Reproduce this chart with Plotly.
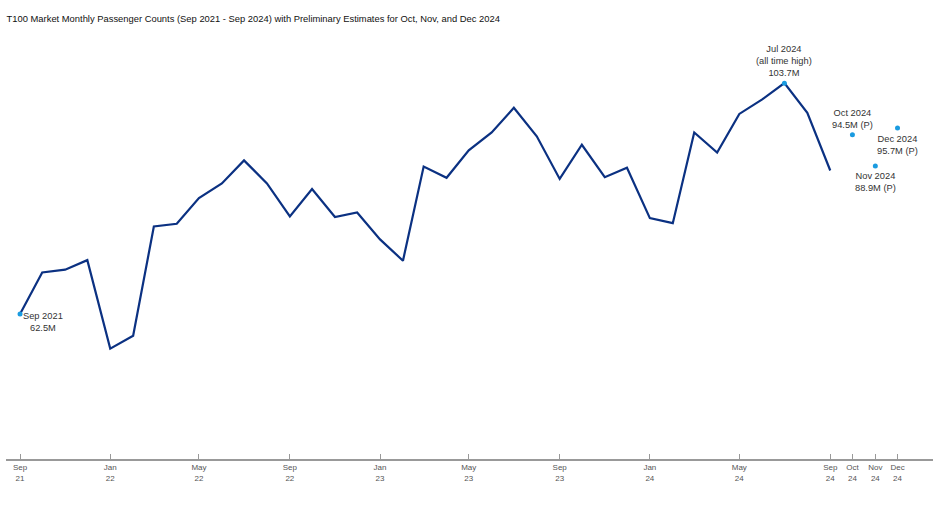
import pandas as pd
import plotly.graph_objects as go

# Monthly passenger counts, millions (Sep 2021 - Sep 2024)
months = pd.date_range("2021-09-01", "2024-09-01", freq="MS")
passengers = [
    62.5, 69.9, 70.4, 72.1,
    56.3, 58.6, 78.1, 78.6, 83.2, 85.8, 89.9, 85.8, 79.9, 84.8, 79.8, 80.6,
    75.8, 72.0, 88.8, 86.8, 91.7, 94.9, 99.3, 94.2, 86.6, 92.7, 86.9, 88.6,
    79.6, 78.7, 94.9, 91.3, 98.2, 100.8, 103.7, 98.4, 88.1,
]

# Preliminary estimates
prelim_months = pd.to_datetime(["2024-10-01", "2024-11-01", "2024-12-01"])
prelim_values = [94.5, 88.9, 95.7]

tick_dates = pd.to_datetime([
    "2021-09-01", "2022-01-01", "2022-05-01", "2022-09-01", "2023-01-01",
    "2023-05-01", "2023-09-01", "2024-01-01", "2024-05-01", "2024-09-01",
    "2024-10-01", "2024-11-01", "2024-12-01",
])
tick_text = [d.strftime("%b<br>%y") for d in tick_dates]

title = ("T100 Market Monthly Passenger Counts (Sep 2021 - Sep 2024) "
         "with Preliminary Estimates for Oct, Nov, and Dec 2024")

line_color = "#0b3182"
dot_color = "#1a9be0"
text_color = "#333333"
font = "Arial, Liberation Sans, sans-serif"

first_i = 0
peak_i = passengers.index(max(passengers))

fig = go.Figure()
fig.add_trace(go.Scatter(
    x=months, y=passengers, mode="lines",
    line=dict(color=line_color, width=2.2), hoverinfo="x+y",
))
fig.add_trace(go.Scatter(
    x=[months[first_i], months[peak_i]],
    y=[passengers[first_i], passengers[peak_i]],
    mode="markers", marker=dict(color=dot_color, size=5),
))
fig.add_trace(go.Scatter(
    x=prelim_months, y=prelim_values, mode="markers",
    marker=dict(color=dot_color, size=5),
))

ann_font = dict(family=font, size=9.3, color=text_color)
fig.add_annotation(
    x=months[first_i], y=passengers[first_i],
    text=f"Sep 2021<br>{passengers[first_i]}M",
    showarrow=False, xanchor="left", yanchor="top", xshift=1, yshift=5,
    align="center", font=ann_font,
)
fig.add_annotation(
    x=months[peak_i], y=passengers[peak_i],
    text=f"Jul 2024<br>(all time high)<br>{passengers[peak_i]}M",
    showarrow=False, xanchor="center", yanchor="bottom", yshift=3,
    align="center", font=ann_font,
)
positions = [("bottom", 3), ("top", -3), ("top", -4)]
for d, v, (ya, ys) in zip(prelim_months, prelim_values, positions):
    fig.add_annotation(
        x=d, y=v, text=f"{d.strftime('%b %Y')}<br>{v}M (P)",
        showarrow=False, xanchor="center", yanchor=ya, yshift=ys,
        align="center", font=ann_font,
    )

fig.update_layout(
    title=dict(text=title, x=0.007, xanchor="left", y=0.963, yanchor="middle",
               font=dict(family=font, size=9.4, color="#111111")),
    width=940, height=508,
    margin=dict(l=6, r=7, t=40, b=49),
    plot_bgcolor="white", paper_bgcolor="white",
    showlegend=False,
    font=dict(family=font),
)
fig.update_xaxes(
    type="date", range=["2021-08-13", "2025-01-18"],
    tickvals=tick_dates, ticktext=tick_text,
    tickfont=dict(family=font, size=8, color="#555555"),
    showgrid=False, zeroline=False,
    showline=True, linecolor="#999999", linewidth=1.5,
    ticks="inside", ticklen=5, tickcolor="#999999",
)
fig.update_yaxes(
    range=[36.6, 111.4], visible=False, showgrid=False, zeroline=False,
)

# drop the browser's default page margin so the figure sits at the corner
fig.write_html(
    "out.html",
    config={"displayModeBar": False},
    post_script="document.body.style.margin='0';document.body.style.padding='0';",
)
